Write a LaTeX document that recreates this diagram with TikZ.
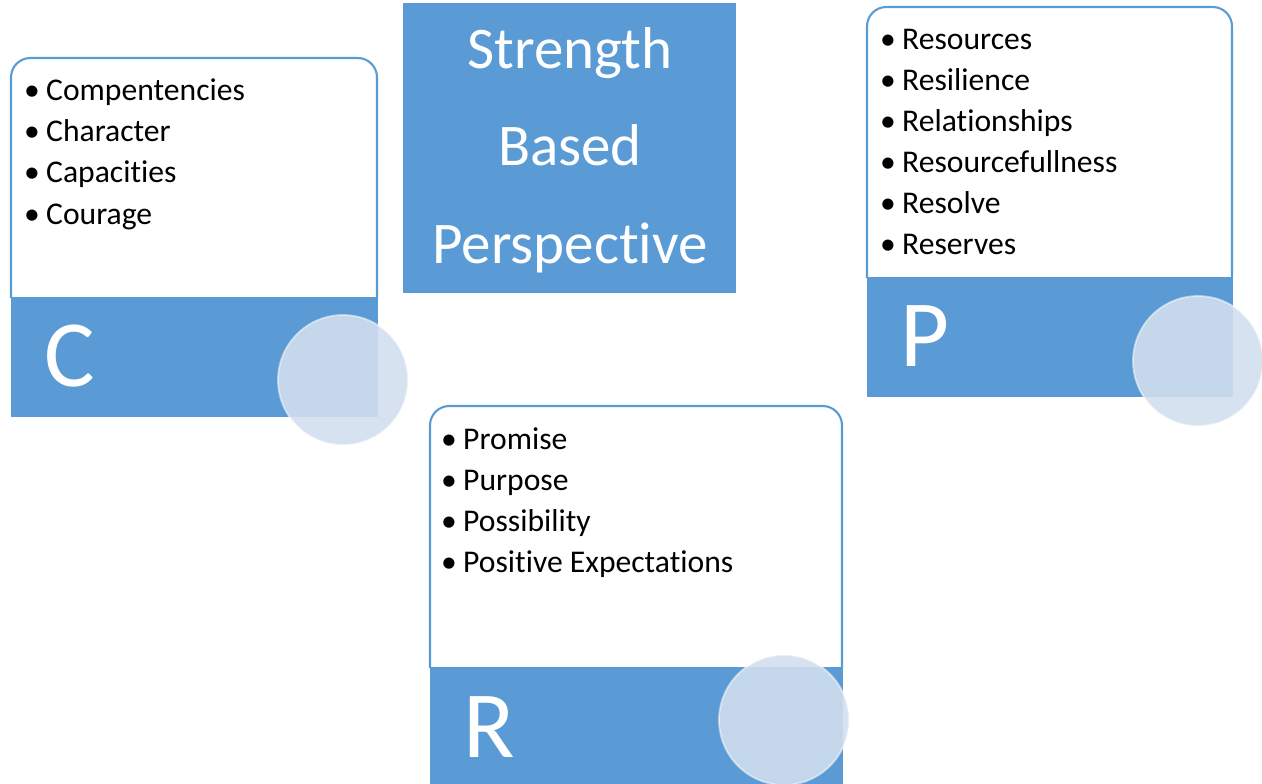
\documentclass[tikz,border=0pt]{standalone}
\usepackage{fontspec}
\setmainfont{Carlito}[Ligatures=NoCommon]
\usetikzlibrary{calc}

\definecolor{cblue}{RGB}{91,155,213}
\definecolor{cdisc}{RGB}{209,223,238}

\newcommand{\itm}{\makebox[13pt][l]{\hspace{0.5pt}\textbullet}}

\begin{document}
\begin{tikzpicture}[x=0.02cm,y=-0.02cm,
  item/.style={anchor=base west,inner sep=0pt,font=\fontsize{18}{21}\selectfont},
  letter/.style={anchor=base west,inner sep=0pt,text=white,font=\fontsize{54}{60}\selectfont},
  disc/.style={fill=cdisc,fill opacity=0.9,draw=white,draw opacity=0.5,line width=1pt}]

\useasboundingbox (0,0) rectangle (1262,784);

\def\r{1.3cm}

% C box
\draw[line width=1.2pt,color=cblue] (11,298) [rounded corners=11pt] -- (11,58) -- (377,58) [sharp corners] -- (377,298);
\fill[color=cblue] (11,297) rectangle (378,417);
\foreach \t [count=\i] in {Compentencies,Character,Capacities,Courage}
  \node[item] (c\i) at (23,{101+41*(\i-1)}) {\itm\t};
\node[letter] (cl) at (44,386) {C};
\fill[disc] (343,380) circle[radius=\r];

% title
\fill[color=cblue] (403,3) rectangle (736,293);
\node[text=white,align=center,inner sep=0pt,font=\fontsize{33.6}{55.6}\selectfont] (title) at (570,150)
  {Strength\\Based\\Perspective};

% P box
\draw[line width=1.2pt,color=cblue] (867,278) [rounded corners=11pt] -- (867,7) -- (1232,7) [sharp corners] -- (1232,278);
\fill[color=cblue] (867,277) rectangle (1233,397);
\foreach \t [count=\i] in {Resources,Resilience,Relationships,Resourcefullness,Resolve,Reserves}
  \node[item] (p\i) at (879,{50+41*(\i-1)}) {\itm\t};
\node[letter] (pl) at (900,366) {P};
\fill[disc] (1198,361) circle[radius=\r];

% R box
\draw[line width=1.2pt,color=cblue] (430,668) [rounded corners=11pt] -- (430,406) -- (842,406) [sharp corners] -- (842,668);
\fill[color=cblue] (430,667) rectangle (843,790);
\foreach \t [count=\i] in {Promise,Purpose,Possibility,Positive Expectations}
  \node[item] (r\i) at (440,{449+41*(\i-1)}) {\itm\t};
\node[letter] (rl) at (463,757) {R};
\fill[disc] (784,720) circle[radius=\r];

\end{tikzpicture}
\end{document}
